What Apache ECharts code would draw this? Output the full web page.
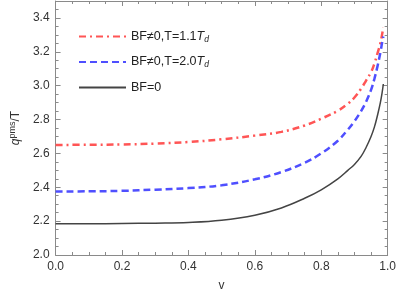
<!DOCTYPE html>
<html><head><meta charset="utf-8">
<script src="https://cdn.jsdelivr.net/npm/echarts@6/dist/echarts.min.js"></script>
<style>html,body{margin:0;padding:0;background:#fff}#c{width:399px;height:297px}</style>
</head><body><div id="c"></div>
<script>
const vs = [0,0.1,0.2,0.3,0.4,0.5,0.6,0.68,0.75,0.8,0.85,0.88,0.9,0.92,0.935,0.95,0.96,0.97,0.978,0.983,0.987];
const red11 = [2.650,2.651,2.653,2.658,2.667,2.683,2.705,2.727,2.765,2.805,2.852,2.893,2.930,2.982,3.030,3.080,3.130,3.195,3.250,3.300,3.345];
const blue20 = [2.375,2.376,2.379,2.386,2.395,2.412,2.447,2.490,2.545,2.600,2.675,2.740,2.790,2.850,2.905,2.975,3.040,3.120,3.195,3.250,3.290];
const black0 = [2.185,2.185,2.186,2.188,2.192,2.205,2.235,2.278,2.335,2.385,2.450,2.500,2.535,2.582,2.635,2.700,2.755,2.830,2.900,2.955,3.010];
const names = ['BF≠0,T=1.1T_d','BF≠0,T=2.0T_d','BF=0'];
const xTicks = [0,0.2,0.4,0.6,0.8,1.0];
const yTicks = [2.0,2.2,2.4,2.6,2.8,3.0,3.2,3.4];

const pair = ys => vs.map((v,i)=>[v, ys[i]]);
const font = '"Liberation Sans", Arial, sans-serif';
const axCol = '#8a8a8a';
function mkX(show, pos){
  return {type:'value', min:0, max:1, interval:0.2, position:pos,
    axisLine:{show:true, onZero:false, lineStyle:{color:axCol, width:1}},
    axisTick:{show:true, inside:true, length:5, lineStyle:{color:axCol}},
    minorTick:{show:true, splitNumber:4, length:3, lineStyle:{color:axCol}},
    splitLine:{show:false}, minorSplitLine:{show:false},
    axisLabel:{show:show, color:'#333', fontSize:12, fontFamily:font, margin:6, formatter:v=>v.toFixed(1)},
    name: show ? 'v' : '', nameLocation:'middle', nameGap:25,
    nameTextStyle:{color:'#333', fontSize:12, fontFamily:font}};
}
function mkY(show, pos){
  return {type:'value', min:2.0, max:3.5, interval:0.2, position:pos,
    axisLine:{show:true, onZero:false, lineStyle:{color:axCol, width:1}},
    axisTick:{show:true, inside:true, length:5, lineStyle:{color:axCol}},
    minorTick:{show:true, splitNumber:4, length:3, lineStyle:{color:axCol}},
    splitLine:{show:false}, minorSplitLine:{show:false},
    axisLabel:{show:show, color:'#333', fontSize:12, fontFamily:font, margin:6,
      formatter:v=> yTicks.some(t=>Math.abs(t-v)<1e-6) ? v.toFixed(1) : ''},
    name: show ? '{i|q}{s|pms}{n|/T}' : '', nameLocation:'middle', nameGap:31, nameRotate:90,
    nameTextStyle:{color:'#333', fontSize:12, fontFamily:font,
      rich:{i:{fontStyle:'italic', fontSize:12, fontFamily:font, color:'#333'},
            s:{fontSize:9, fontFamily:font, color:'#333', padding:[0,0,7,0]},
            n:{fontSize:12, fontFamily:font, color:'#333'}}}};
}
const chart = echarts.init(document.getElementById('c'), null, {renderer:'canvas'});
const fmt = n => { const k=n.indexOf('T_d'); return k<0 ? '{a|'+n+'}' : '{a|'+n.slice(0,k)+'}{i|T}{s|d}'; };
chart.setOption({
  animation:false,
  grid:{left:47, right:9, top:1, bottom:39},
  xAxis:[mkX(true,'bottom'), mkX(false,'top')],
  yAxis:[mkY(true,'left'), mkY(false,'right')],
  legend:{orient:'vertical', left:78, top:30, padding:0, itemWidth:47, itemHeight:14, itemGap:11.5,
    data:names, itemStyle:{opacity:0},
    formatter: fmt,
    textStyle:{color:'#222', fontSize:12.5, fontFamily:font,
      rich:{a:{fontSize:12.5, fontFamily:font, color:'#222'},
            i:{fontSize:12.5, fontStyle:'italic', fontFamily:font, color:'#222'},
            s:{fontSize:8.5, fontStyle:'italic', fontFamily:font, color:'#222', padding:[6,0,0,0]}}}},
  series:[
    {name:names[0], type:'line', data:pair(red11), smooth:0.4, showSymbol:false, symbol:'none',
      lineStyle:{color:'#ff5555', width:2.5, type:[7,4,2,4]}, itemStyle:{color:'#ff5555'}},
    {name:names[1], type:'line', data:pair(blue20), smooth:0.4, showSymbol:false, symbol:'none',
      lineStyle:{color:'#4f4fff', width:2.5, type:[7,4]}, itemStyle:{color:'#4f4fff'}},
    {name:names[2], type:'line', data:pair(black0), smooth:0.4, showSymbol:false, symbol:'none',
      lineStyle:{color:'#444', width:1.5, type:'solid'}, itemStyle:{color:'#444'}}
  ]
});
</script></body></html>
